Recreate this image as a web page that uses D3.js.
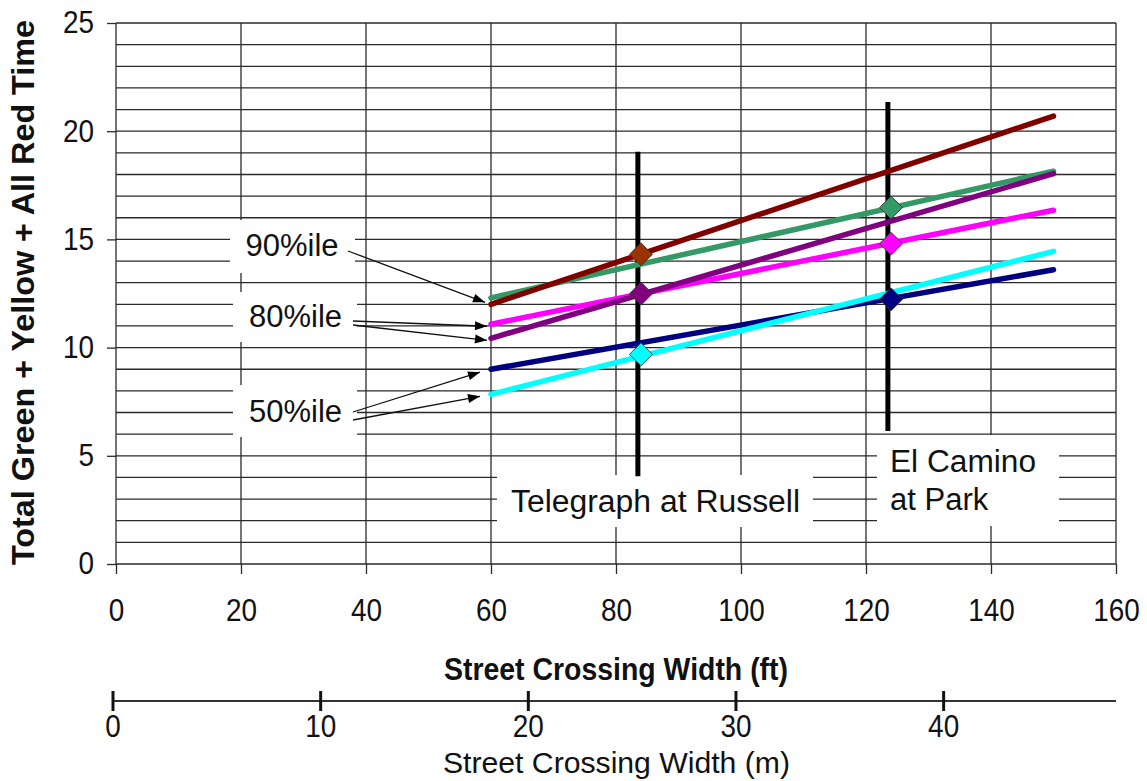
<!DOCTYPE html>
<html>
<head>
<meta charset="utf-8">
<script src="https://cdn.jsdelivr.net/npm/d3@7"></script>
<style>
  html, body { margin: 0; padding: 0; background: #fff; }
  svg { display: block; font-family: "Liberation Sans", Arial, sans-serif; }
</style>
</head>
<body>
<svg id="chart" width="1147" height="781"></svg>
<script>
// ---------------- data ----------------
const widthFt = [60, 150];                       // x range of the fitted lines (ft)
const p90Upper = [12.0, 20.7];                   // dark red
const p90Lower = [12.3, 18.15];                  // green
const p80Upper = [11.08, 16.35];                 // magenta
const p80Lower = [10.43, 18.04];                 // purple
const p50Upper = [9.0, 13.6];                    // navy
const p50Lower = [7.84, 14.45];                  // cyan

const siteNames = ["Telegraph at Russell", "El Camino", "at Park"];
const siteWidthFt = [84, 124];                   // marker x
const siteBarFt = [83.5, 123.5];                 // vertical bar x
const siteBarLow = [4.05, 6.15];
const siteBarHigh = [19.05, 21.35];
const telegraphValues = [14.31, 12.49, 9.69];    // orange, purple, cyan
const elCaminoValues = [16.47, 14.8, 12.23];     // green, magenta, navy

const xTicksFt = [0, 20, 40, 60, 80, 100, 120, 140, 160];
const yTicks = [0, 5, 10, 15, 20, 25];
const yGrid = d3.range(0, 26, 1);
const xTicksM = [0, 10, 20, 30, 40];

// ---------------- layout ----------------
const svg = d3.select("#chart");
const x = d3.scaleLinear().domain([0, 160]).range([116, 1116]);
const y = d3.scaleLinear().domain([0, 25]).range([564, 23]);
const xm = d3.scaleLinear().domain([0, 48.3]).range([113, 1116]);

const gridColor = "#2a2a2a";
const FONT = "Liberation Sans, Arial, sans-serif";

// gridlines
const grid = svg.append("g");
grid.selectAll("line.h").data(yGrid).join("line")
  .attr("x1", x(0)).attr("x2", x(160))
  .attr("y1", d => y(d)).attr("y2", d => y(d))
  .attr("stroke", gridColor).attr("stroke-width", 1.3);
grid.selectAll("line.v").data(xTicksFt).join("line")
  .attr("x1", d => x(d)).attr("x2", d => x(d))
  .attr("y1", y(25)).attr("y2", y(0))
  .attr("stroke", gridColor).attr("stroke-width", 1.3);

// y axis
const yAxis = svg.append("g").attr("transform", `translate(${x(0)},0)`)
  .call(d3.axisLeft(y).tickValues(yTicks).tickSize(9).tickPadding(13).tickFormat(d3.format("d")));
yAxis.select(".domain").remove();
yAxis.selectAll(".tick line").attr("stroke", gridColor).attr("stroke-width", 1.3);
yAxis.selectAll(".tick text").attr("font-size", 31).attr("font-family", FONT).attr("fill", "#111")
  .attr("x", -22 / 0.9).attr("transform", "scale(0.9,1)");

// x axis (ft)
const xAxis = svg.append("g").attr("transform", `translate(0,${y(0)})`)
  .call(d3.axisBottom(x).tickValues(xTicksFt).tickSize(10).tickPadding(25).tickFormat(d3.format("d")));
xAxis.select(".domain").remove();
xAxis.selectAll(".tick line").attr("stroke", gridColor).attr("stroke-width", 1.3);
xAxis.selectAll(".tick text").attr("font-size", 31).attr("font-family", FONT).attr("fill", "#111")
  .attr("transform", "scale(0.9,1)");

// white label boxes (cover gridlines)
const boxes = [
  [230, 220, 125, 53], [233, 292, 124, 50], [233, 385, 124, 52],
  [497, 475, 316, 52], [877, 435, 182, 91]
];
svg.append("g").selectAll("rect").data(boxes).join("rect")
  .attr("x", d => d[0]).attr("y", d => d[1]).attr("width", d => d[2]).attr("height", d => d[3])
  .attr("fill", "#fff");

// vertical site bars
svg.append("g").selectAll("line").data(siteBarFt).join("line")
  .attr("x1", d => x(d)).attr("x2", d => x(d))
  .attr("y1", (d, i) => y(siteBarHigh[i])).attr("y2", (d, i) => y(siteBarLow[i]))
  .attr("stroke", "#000").attr("stroke-width", 5);

// fitted lines
const series = [
  { v: p90Lower, c: "#339966" },
  { v: p90Upper, c: "#800000" },
  { v: p80Upper, c: "#FF00FF" },
  { v: p80Lower, c: "#800080" },
  { v: p50Upper, c: "#000080" },
  { v: p50Lower, c: "#00FFFF" }
];
const line = d3.line().x((d, i) => x(widthFt[i])).y(d => y(d));
svg.append("g").selectAll("path").data(series).join("path")
  .attr("d", d => line(d.v))
  .attr("fill", "none").attr("stroke", d => d.c).attr("stroke-width", 5.5)
  .attr("stroke-linecap", "round");

// markers
const markers = [
  ...telegraphValues.map((v, i) => ({ xv: siteWidthFt[0], v, c: ["#993300", "#800080", "#00FFFF"][i] })),
  ...elCaminoValues.map((v, i) => ({ xv: siteWidthFt[1], v, c: ["#339966", "#FF00FF", "#000080"][i] }))
];
const sym = d3.symbol().type(d3.symbolSquare).size(265);
svg.append("g").selectAll("path").data(markers).join("path")
  .attr("d", sym())
  .attr("transform", d => `translate(${x(d.xv)},${y(d.v)}) rotate(45)`)
  .attr("fill", d => d.c).attr("stroke", "#333").attr("stroke-width", 0.8);

// arrows
const defs = svg.append("defs");
defs.append("marker").attr("id", "ah").attr("viewBox", "0 -5 12 10")
  .attr("refX", 12).attr("refY", 0).attr("markerUnits", "userSpaceOnUse")
  .attr("markerWidth", 13).attr("markerHeight", 10).attr("orient", "auto")
  .append("path").attr("d", "M0,-4.5L12,0L0,4.5Z").attr("fill", "#000");

const arrows = [
  { x1: 348, y1: 251, tv: p90Upper[0], dx: -6, dy: -2 },
  { x1: 353, y1: 321, tv: p80Upper[0], dx: -4, dy: 2 },
  { x1: 353, y1: 325, tv: p80Lower[0], dx: -4, dy: 2 },
  { x1: 353, y1: 412, tv: p50Upper[0], dx: -11, dy: 3 },
  { x1: 353, y1: 420, tv: p50Lower[0], dx: -11, dy: 2 }
];
svg.append("g").selectAll("line").data(arrows).join("line")
  .attr("x1", d => d.x1).attr("y1", d => d.y1)
  .attr("x2", d => x(widthFt[0]) + d.dx).attr("y2", d => y(d.tv) + d.dy)
  .attr("stroke", "#111").attr("stroke-width", 1.3)
  .attr("marker-end", "url(#ah)");

// annotation text
const ann = svg.append("g").attr("font-size", 31).attr("fill", "#111");
ann.append("text").attr("x", 292).attr("y", 256).attr("text-anchor", "middle").text("90%ile");
ann.append("text").attr("x", 295.5).attr("y", 327).attr("text-anchor", "middle").text("80%ile");
ann.append("text").attr("x", 295.5).attr("y", 422).attr("text-anchor", "middle").text("50%ile");
ann.append("text").attr("x", 511).attr("y", 512)
  .attr("textLength", 289).attr("lengthAdjust", "spacingAndGlyphs").text(siteNames[0]);
ann.append("text").attr("x", 890).attr("y", 472)
  .attr("textLength", 146).attr("lengthAdjust", "spacingAndGlyphs").text(siteNames[1]);
ann.append("text").attr("x", 890).attr("y", 510).text(siteNames[2]);

// y title
svg.append("text")
  .attr("transform", `translate(34,565) rotate(-90)`)
  .attr("font-size", 31).attr("font-weight", "bold").attr("fill", "#111")
  .attr("textLength", 545).attr("lengthAdjust", "spacingAndGlyphs")
  .text("Total Green + Yellow + All Red Time");

// x title (ft)
svg.append("text").attr("x", 444).attr("y", 680)
  .attr("font-size", 31).attr("font-weight", "bold").attr("fill", "#111")
  .attr("textLength", 344).attr("lengthAdjust", "spacingAndGlyphs")
  .text("Street Crossing Width (ft)");

// metre axis
const mAxis = svg.append("g");
mAxis.append("line").attr("x1", xm(0)).attr("x2", x(160)).attr("y1", 701).attr("y2", 701)
  .attr("stroke", "#333").attr("stroke-width", 1.8);
mAxis.selectAll("line.t").data(xTicksM).join("line").attr("class", "t")
  .attr("x1", d => xm(d)).attr("x2", d => xm(d)).attr("y1", 691).attr("y2", 711)
  .attr("stroke", "#111").attr("stroke-width", 3);
mAxis.selectAll("text").data(xTicksM).join("text")
  .attr("x", d => xm(d) / 0.9).attr("y", 737).attr("text-anchor", "middle")
  .attr("transform", "scale(0.9,1)")
  .attr("font-size", 31).attr("fill", "#111").text(d => d);
svg.append("text").attr("x", 443).attr("y", 773)
  .attr("font-size", 30).attr("fill", "#111")
  .attr("textLength", 347).attr("lengthAdjust", "spacingAndGlyphs")
  .text("Street Crossing Width (m)");
</script>
</body>
</html>
